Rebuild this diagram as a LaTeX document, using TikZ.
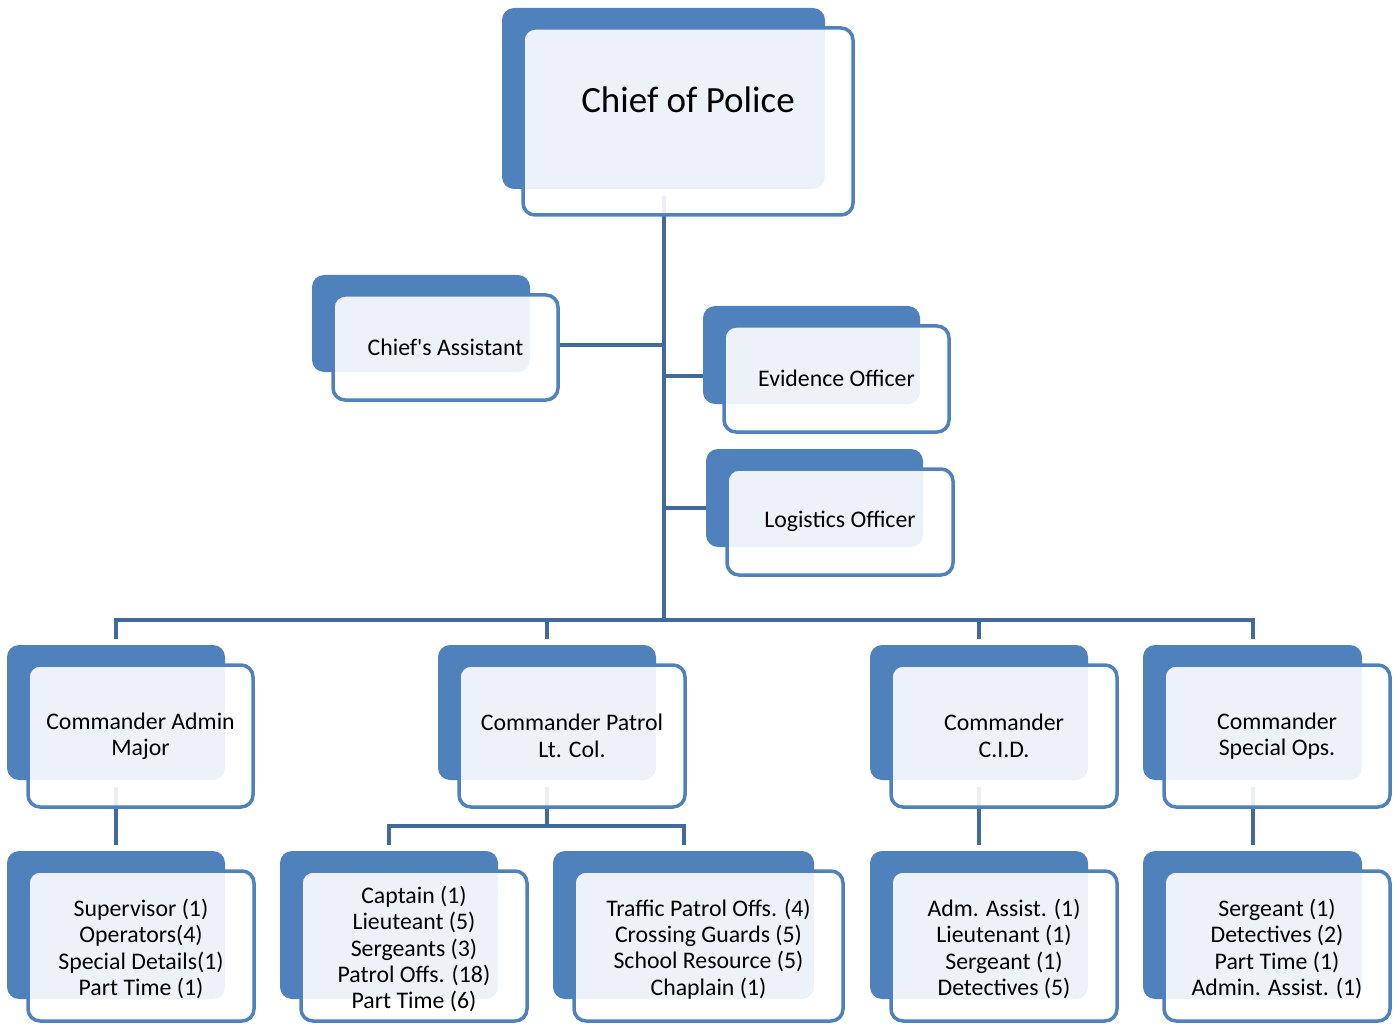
\documentclass[tikz,border=0pt]{standalone}
\usepackage{fontspec}
\setmainfont{Carlito}
\usetikzlibrary{fit,backgrounds}

\definecolor{accent}{RGB}{79,129,189}
\definecolor{linkblue}{RGB}{64,106,155}

\tikzset{
  backbox/.style={draw=none, fill=accent, rounded corners=12pt, inner sep=0pt},
  frontbox/.style={draw=accent, line width=3.5pt, fill=white, fill opacity=0.9,
                   rounded corners=12pt, inner sep=0pt},
  boxtext/.style={align=center, inner sep=0pt, text=black,
                  font=\fontsize{23.8}{26.4}\selectfont},
  unittext/.style={yshift=-3pt},
  conn/.style={draw=linkblue, line width=4pt},
}

% \orgbox{name}{back x1}{back y1}{back x2}{back y2}{front x2}{front y2}
\newcommand\orgbox[7]{%
  \node[backbox, fit={(#2,#3)(#4,#5)}] (#1-b) {};
  \node[frontbox, fit={(#2+21,#3+20)(#6,#7)}] (#1) {};
}
% \orgtext[options]{name}{text}
\newcommand\orgtext[3][]{%
  \node[boxtext,#1] (#2-t) at (#2.center) {#3};
}

\begin{document}
\begin{tikzpicture}[x=1pt,y=-1pt]
\useasboundingbox (0,0) rectangle (1395,1024);

% top level
\orgbox{chief}{502}{8}{825}{189}{853}{215}
\orgtext[font=\fontsize{37}{44}\selectfont, yshift=22pt]{chief}{Chief of Police}

% staff positions
\orgbox{assist}{312}{275}{530}{372}{558}{400}
\orgtext{assist}{Chief\textquotesingle s Assistant}
\orgbox{evid}{703}{306}{920}{404}{949}{432}
\orgtext[yshift=1pt]{evid}{Evidence Officer}
\orgbox{logi}{706}{449}{923}{547}{953}{575}
\orgtext[yshift=1pt]{logi}{Logistics Officer}

% commanders
\orgbox{admin}{7}{645}{225}{780}{253}{807}
\orgtext{admin}{Commander Admin\\Major}
\orgbox{patrol}{438}{645}{656}{780}{685}{807}
\orgtext{patrol}{Commander Patrol\\Lt. Col.}
\orgbox{cid}{870}{645}{1088}{780}{1117}{807}
\orgtext{cid}{Commander\\C.I.D.}
\orgbox{spec}{1143}{645}{1362}{780}{1390}{807}
\orgtext{spec}{Commander\\Special Ops.}

% units
\orgbox{adminu}{7}{851}{225}{999}{254}{1021}
\orgtext[unittext]{adminu}{Supervisor (1)\\Operators(4)\\Special Details(1)\\Part Time (1)}
\orgbox{patrola}{280}{851}{498}{999}{527}{1021}
\orgtext[unittext]{patrola}{Captain (1)\\Lieuteant (5)\\Sergeants (3)\\Patrol Offs. (18)\\Part Time (6)}
\orgbox{patrolb}{553}{851}{814}{999}{843}{1021}
\orgtext[unittext]{patrolb}{Traffic Patrol Offs. (4)\\Crossing Guards (5)\\School Resource (5)\\Chaplain (1)}
\orgbox{cidu}{870}{851}{1088}{999}{1117}{1021}
\orgtext[unittext]{cidu}{Adm. Assist. (1)\\Lieutenant (1)\\Sergeant (1)\\Detectives (5)}
\orgbox{specu}{1143}{851}{1362}{999}{1390}{1021}
\orgtext[unittext]{specu}{Sergeant (1)\\Detectives (2)\\Part Time (1)\\Admin. Assist. (1)}

\coordinate (bus) at (663,620);
\coordinate (pbus) at (547,826);

\begin{pgfonlayer}{background}
  % trunk and staff links
  \draw[conn] ([yshift=-7pt]chief-b.south) -- (chief-b.south |- bus);
  \draw[conn] ([yshift=2.5pt]assist.east) -- ([yshift=2.5pt]assist.east -| chief-b.south);
  \draw[conn] ([yshift=-21pt]evid-b.west) -- ([yshift=-21pt]evid-b.west -| chief-b.south);
  \draw[conn] ([yshift=-10pt]logi-b.west) -- ([yshift=-10pt]logi-b.west -| chief-b.south);
  % bus to commanders
  \draw[conn] ([yshift=6pt]admin-b.north) -- (admin-b.north |- bus)
              -- (spec-b.north |- bus) -- ([yshift=6pt]spec-b.north);
  \draw[conn] (patrol-b.north |- bus) -- ([yshift=6pt]patrol-b.north);
  \draw[conn] (cid-b.north |- bus) -- ([yshift=6pt]cid-b.north);
  % commanders to units
  \draw[conn] ([yshift=-7pt]admin-b.south) -- ([yshift=6pt]adminu-b.north);
  \draw[conn] ([yshift=-7pt]patrol-b.south) -- (patrol-b.south |- pbus);
  \draw[conn] ([yshift=6pt]patrola-b.north) -- (patrola-b.north |- pbus)
              -- (patrolb-b.north |- pbus) -- ([yshift=6pt]patrolb-b.north);
  \draw[conn] ([yshift=-7pt]cid-b.south) -- ([yshift=6pt]cidu-b.north);
  \draw[conn] ([yshift=-7pt]spec-b.south) -- ([yshift=6pt]specu-b.north);
\end{pgfonlayer}
\end{tikzpicture}
\end{document}
